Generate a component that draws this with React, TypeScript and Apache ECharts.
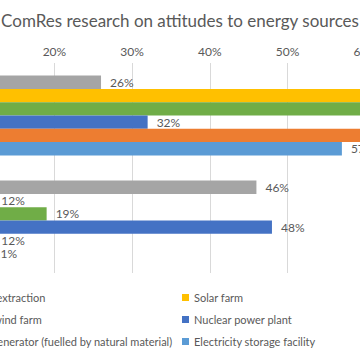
import React, { useEffect, useRef } from "react";
import * as echarts from "echarts";

const categories = ["Support", "Oppose"];
const seriesNames = [
  "Shale gas extraction",
  "Solar farm",
  "Onshore wind farm",
  "Nuclear power plant",
  "Biomass generator (fuelled by natural material)",
  "Electricity storage facility",
];
const seriesColors = ["#A5A5A5", "#FFC000", "#70AD47", "#4472C4", "#ED7D31", "#5B9BD5"];
const shaleValues = [26, 46];
const solarValues = [79, 12];
const windValues = [70, 19];
const nuclearValues = [32, 48];
const biomassValues = [62, 12];
const storageValues = [57, 11];
const allValues = [shaleValues, solarValues, windValues, nuclearValues, biomassValues, storageValues];
const tickValues = [0, 10, 20, 30, 40, 50, 60, 70, 80];

const FONT = "Lato";
const TEXT = "#595959";
// The reference is a crop of a wider chart: the chart is drawn wider and shifted left.
const OX = 160;
const CHART_W = 900;

export default function App() {
  const ref = useRef<HTMLDivElement>(null);
  useEffect(() => {
    if (!ref.current) return;
    const chart = echarts.init(ref.current, null, { renderer: "svg" });
    const unit = 77.7;
    chart.setOption({
      animation: false,
      backgroundColor: "#ffffff",
      textStyle: { fontFamily: FONT },
      title: {
        text: "ComRes research on attitudes to energy sources",
        left: 180 + OX,
        textAlign: "center",
        top: 12,
        padding: 0,
        textStyle: { fontFamily: FONT, fontSize: 17, fontWeight: "normal", color: TEXT },
      },
      legend: [
        {
          data: [seriesNames[0], seriesNames[2], seriesNames[4]],
          orient: "vertical",
          left: -63 + OX,
          top: 292,
          padding: 0,
          itemWidth: 7,
          itemHeight: 7,
          itemGap: 11,
          icon: "rect",
          textStyle: { fontFamily: FONT, fontSize: 11, color: TEXT },
        },
        {
          data: [seriesNames[1], seriesNames[3], seriesNames[5]],
          orient: "vertical",
          left: 182 + OX,
          top: 292,
          padding: 0,
          itemWidth: 7,
          itemHeight: 7,
          itemGap: 11,
          icon: "rect",
          textStyle: { fontFamily: FONT, fontSize: 11, color: TEXT },
        },
      ],
      grid: {
        left: -101 + OX,
        top: 63,
        width: unit * (tickValues.length - 1),
        height: 210,
        containLabel: false,
        outerBoundsMode: "none",
      },
      xAxis: {
        type: "value",
        position: "top",
        min: tickValues[0],
        max: tickValues[tickValues.length - 1],
        interval: 10,
        axisLine: { show: false },
        axisTick: { show: false },
        splitLine: { lineStyle: { color: "#D9D9D9", width: 1 } },
        axisLabel: { formatter: "{value}%", color: TEXT, fontSize: 12, fontFamily: FONT, margin: 6 },
      },
      yAxis: {
        type: "category",
        data: categories,
        inverse: true,
        axisLine: { show: false },
        axisTick: { show: false },
        axisLabel: { show: false },
      },
      series: seriesNames.map((name, i) => ({
        name,
        type: "bar",
        data: allValues[i],
        barGap: "0%",
        barCategoryGap: "24%",
        itemStyle: { color: seriesColors[i] },
        label: {
          show: true,
          position: "right",
          distance: 9,
          formatter: "{c}%",
          color: TEXT,
          fontSize: 12,
          fontFamily: FONT,
        },
      })),
    });
    return () => chart.dispose();
  }, []);
  return (
    <div style={{ position: "fixed", left: 0, top: 0, width: 360, height: 360, overflow: "hidden", background: "#fff" }}>
      <div
        ref={ref}
        style={{ position: "absolute", left: -OX, top: 0, width: CHART_W, height: 360 }}
      />
    </div>
  );
}
